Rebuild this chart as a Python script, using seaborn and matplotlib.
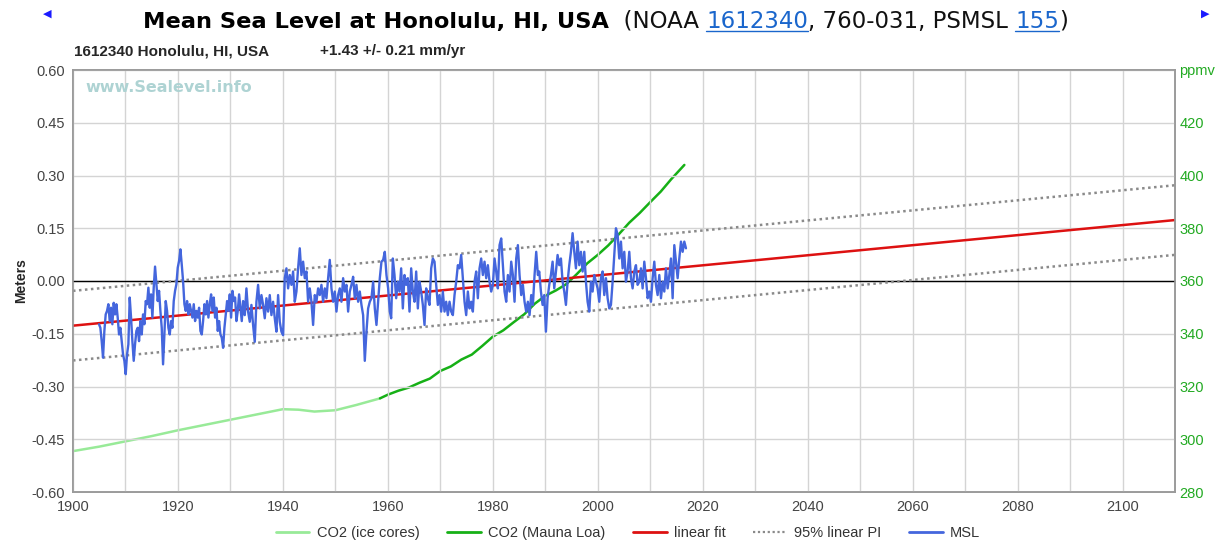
import numpy as np
import pandas as pd
import matplotlib
matplotlib.use("Agg")
import matplotlib.pyplot as plt
import seaborn as sns
from matplotlib.lines import Line2D

# ---------------- data ----------------
# Monthly-ish mean sea level (m), four consecutive segments
msl_seg_spans = [(1904.96, 1932.67), (1932.73, 1960.37), (1960.63, 1988.59), (1988.85, 2016.81)]
msl_a = [-0.123, -0.133, -0.171, -0.218, -0.142, -0.095, -0.085, -0.066, -0.114, -0.076,
         -0.123, -0.062, -0.095, -0.066, -0.104, -0.152, -0.133, -0.171, -0.209, -0.227,
         -0.265, -0.209, -0.180, -0.047, -0.104, -0.171, -0.227, -0.180, -0.142, -0.133,
         -0.171, -0.114, -0.152, -0.095, -0.123, -0.057, -0.066, -0.019, -0.076, -0.038,
         -0.104, -0.019, 0.041, -0.009, -0.057, -0.028, -0.085, -0.133, -0.237, -0.152,
         -0.057, -0.085, -0.133, -0.152, -0.114, -0.133, -0.057, -0.028, -0.009, 0.038,
         0.057, 0.090, 0.047, 0.000, -0.066, -0.085, -0.057, -0.095, -0.066, -0.085,
         -0.104, -0.066, -0.114, -0.085, -0.104, -0.076, -0.142, -0.152, -0.114, -0.066,
         -0.095, -0.057, -0.104, -0.066, -0.038, -0.085, -0.047, -0.104, -0.076, -0.142,
         -0.114, -0.152, -0.161, -0.190, -0.133, -0.095, -0.057, -0.085, -0.038, -0.104,
         -0.028, -0.057, -0.047, -0.114, -0.085, -0.038, -0.076, -0.114, -0.057, -0.095]
msl_b = [-0.097, -0.021, -0.087, -0.116, -0.068, -0.125, -0.173, -0.059, -0.011, -0.078,
         -0.040, -0.068, -0.106, -0.049, -0.087, -0.040, -0.097, -0.059, -0.106, -0.144,
         -0.040, -0.116, -0.144, -0.154, 0.008, 0.036, -0.021, 0.017, -0.011, 0.027,
         -0.059, -0.030, 0.036, 0.093, 0.017, 0.055, 0.008, 0.027, -0.059, -0.021,
         -0.059, -0.125, -0.040, -0.059, -0.021, -0.040, -0.011, -0.059, -0.021, -0.049,
         0.008, 0.060, -0.021, -0.059, -0.030, -0.087, -0.040, -0.021, -0.059, 0.008,
         -0.030, -0.011, -0.087, -0.030, -0.011, 0.012, -0.049, -0.011, -0.059, -0.030,
         -0.068, -0.097, -0.227, -0.144, -0.078, -0.059, -0.049, -0.002, -0.078, -0.125,
         -0.059, 0.008, 0.055, 0.060, 0.083, 0.017, -0.021, -0.087]
msl_c = [-0.106, 0.064, 0.017, -0.049, -0.002, -0.030, 0.036, -0.078, 0.017, -0.011,
         0.008, -0.087, 0.036, -0.030, -0.059, 0.027, -0.078, -0.002, -0.030, -0.068,
         -0.125, -0.021, -0.049, -0.068, 0.036, 0.064, 0.055, -0.011, -0.068, -0.040,
         -0.087, -0.030, -0.087, -0.059, -0.097, -0.059, -0.087, -0.097, -0.040, -0.002,
         0.045, 0.036, 0.074, 0.008, -0.059, -0.097, -0.030, -0.078, -0.059, -0.087,
         -0.002, 0.027, -0.049, 0.036, 0.064, 0.017, 0.055, 0.008, 0.045, -0.002,
         -0.030, -0.011, 0.064, 0.027, -0.021, 0.102, 0.121, 0.045, -0.030, -0.059,
         0.017, -0.030, 0.055, 0.017, -0.059, 0.064, 0.102, 0.017, -0.040, -0.011,
         -0.059, -0.087, -0.059, -0.097, -0.040, -0.068, 0.017, 0.083, 0.017]
msl_d = [0.027, -0.030, -0.068, -0.040, -0.144, -0.049, -0.011, 0.017, 0.055, -0.021,
         0.027, 0.074, 0.045, 0.064, -0.002, -0.030, -0.068, -0.002, 0.045, 0.083,
         0.136, 0.083, 0.036, 0.112, 0.045, 0.083, 0.027, 0.083, -0.002, -0.059,
         -0.087, -0.002, -0.030, 0.017, -0.002, -0.021, -0.059, 0.008, 0.027, -0.040,
         0.008, -0.049, -0.078, -0.068, -0.002, 0.074, 0.150, 0.131, 0.064, 0.112,
         0.036, 0.083, -0.002, 0.027, 0.083, 0.008, -0.021, 0.027, 0.045, -0.011,
         -0.002, 0.036, -0.021, 0.055, 0.008, -0.049, -0.030, -0.059, 0.008, 0.055,
         -0.011, -0.040, 0.017, -0.049, -0.002, -0.030, 0.036, -0.021, 0.017, 0.064,
         -0.049, 0.102, 0.055, 0.008, 0.064, 0.112, 0.083, 0.112, 0.093]

# CO2 (ppmv)
ice_years = [1900, 1905, 1910, 1915, 1920, 1925, 1930, 1935, 1940, 1943, 1946, 1950, 1954, 1958.5]
ice_ppm = [295.5, 297.2, 299.2, 301.2, 303.4, 305.4, 307.4, 309.4, 311.4, 311.2, 310.5, 311.0, 313.0, 315.5]
ml_years = [1958.5, 1960, 1962, 1964, 1966, 1968, 1970, 1972, 1974, 1976, 1978, 1980, 1982,
            1984, 1986, 1988, 1990, 1992, 1994, 1996, 1998, 2000, 2002, 2004, 2006, 2008,
            2010, 2012, 2014, 2016.5]
ml_ppm = [315.5, 316.9, 318.4, 319.6, 321.4, 323.0, 325.9, 327.6, 330.2, 332.1, 335.4, 338.9,
          341.3, 344.4, 347.4, 351.4, 354.4, 356.4, 358.8, 362.6, 366.7, 369.9, 373.5, 377.7,
          382.1, 385.8, 389.9, 393.9, 398.6, 404.0]

# linear fit / prediction interval
fit_rate_mm_yr = 1.43
fit_at_1900 = -0.127
pi_halfwidth = 0.099
fit_years = [1900, 2110]

# axes
x_ticks = [1900, 1920, 1940, 1960, 1980, 2000, 2020, 2040, 2060, 2080, 2100]
left_ticks = [-0.60, -0.45, -0.30, -0.15, 0.00, 0.15, 0.30, 0.45, 0.60]
right_ticks = [280, 300, 320, 340, 360, 380, 400, 420, 440]
right_labels = ["280", "300", "320", "340", "360", "380", "400", "420", "ppmv"]

# ---------------- build frames ----------------
segs = [msl_a, msl_b, msl_c, msl_d]
msl_years = np.concatenate([np.linspace(s, e, len(v)) for (s, e), v in zip(msl_seg_spans, segs)])
msl_vals = np.concatenate([np.array(v) for v in segs])
msl_df = pd.DataFrame({"year": msl_years, "msl": msl_vals})

fy = np.array(fit_years, dtype=float)
fit_vals = fit_at_1900 + fit_rate_mm_yr / 1000.0 * (fy - 1900)
fit_df = pd.DataFrame({"year": fy, "fit": fit_vals,
                       "hi": fit_vals + pi_halfwidth, "lo": fit_vals - pi_halfwidth})
ice_df = pd.DataFrame({"year": ice_years, "ppm": ice_ppm})
ml_df = pd.DataFrame({"year": ml_years, "ppm": ml_ppm})

# ---------------- figure ----------------
sns.set_style("white")
plt.rcParams["font.family"] = ["Liberation Sans", "DejaVu Sans"]

W, H = 1225, 544
fig = plt.figure(figsize=(W / 100, H / 100), dpi=100)
ax = fig.add_axes([73 / W, 1 - 492 / H, (1175 - 73) / W, (492 - 70) / H])
ax2 = ax.twinx()
ax.set_zorder(ax2.get_zorder() + 1)
ax.patch.set_visible(False)

c_ice = "#98ea98"
c_ml = "#16b016"
c_fit = "#dd1111"
c_pi = "#8a8a8a"
c_msl = "#4466dd"

sns.lineplot(data=ice_df, x="year", y="ppm", ax=ax2, color=c_ice, linewidth=1.8, legend=False)
sns.lineplot(data=ml_df, x="year", y="ppm", ax=ax2, color=c_ml, linewidth=1.8, legend=False)

ax.axhline(0, color="black", linewidth=1.0, zorder=1.5)
sns.lineplot(data=fit_df, x="year", y="fit", ax=ax, color=c_fit, linewidth=1.8, legend=False, zorder=2)
for col in ["hi", "lo"]:
    sns.lineplot(data=fit_df, x="year", y=col, ax=ax, color=c_pi, linewidth=1.8,
                 linestyle=(0, (1, 1.4)), legend=False, zorder=2)
sns.lineplot(data=msl_df, x="year", y="msl", ax=ax, color=c_msl, linewidth=1.7,
             legend=False, zorder=3)

ax.set_xlim(1900, 2110)
ax.set_ylim(-0.60, 0.60)
ax2.set_ylim(280, 440)

ax.set_xticks(x_ticks)
ax.set_xticks(np.arange(1910, 2111, 20), minor=True)
ax.set_yticks(left_ticks)
ax.set_yticklabels([f"{v:.2f}" for v in left_ticks])
ax.grid(True, which="both", axis="x", color="#d4d4d4", linewidth=1.0)
ax.grid(True, which="major", axis="y", color="#d4d4d4", linewidth=1.0)
ax.set_axisbelow(True)
ax.tick_params(axis="both", which="both", length=0, labelsize=10.5, labelcolor="#444444", pad=6)
ax.set_xlabel("")
ax.set_ylabel("Meters", fontsize=10, fontweight="bold", labelpad=2)

ax2.set_yticks(right_ticks)
ax2.set_yticklabels(right_labels)
ax2.tick_params(axis="y", length=0, labelsize=10.5, labelcolor="#22aa22", pad=3)
ax2.set_ylabel("")
ax2.grid(False)

for a in (ax, ax2):
    for sp in a.spines.values():
        sp.set_color("#9a9a9a")
        sp.set_linewidth(1.2)

# watermark
ax.text(12 / 1102, 1 - 18 / 422, "www.Sealevel.info", transform=ax.transAxes,
        fontsize=11.5, fontweight="bold", color="#aed3d3", va="center", ha="left",
        family="DejaVu Sans")

# ---------------- title pieces ----------------
fig.canvas.draw()
r = fig.canvas.get_renderer()
pieces = [("Mean Sea Level at Honolulu, HI, USA", "bold", "black", False, 16.2),
          ("  (NOAA ", "normal", "#111111", False, 16.5),
          ("1612340", "normal", "#1a66cc", True, 16.5),
          (", 760-031, PSMSL ", "normal", "#111111", False, 16.5),
          ("155", "normal", "#1a66cc", True, 16.5),
          (")", "normal", "#111111", False, 16.5)]
xpix = 143
ybase = H - 28
for txt, wt, col, link, fs in pieces:
    t = fig.text(xpix / W, ybase / H, txt, fontsize=fs, fontweight=wt, color=col,
                 family="DejaVu Sans", va="baseline", ha="left")
    bb = t.get_window_extent(r)
    if link:
        fig.add_artist(Line2D([bb.x0 / W, bb.x1 / W], [(ybase - 3) / H, (ybase - 3) / H],
                              color=col, linewidth=1.0))
    xpix = bb.x1

fig.text(47 / W, 1 - 14 / H, "\u25C0", fontsize=8, color="#1a1aff", ha="center", va="center",
         family="DejaVu Sans")
fig.text(1205 / W, 1 - 14 / H, "\u25B6", fontsize=8, color="#1a1aff", ha="center", va="center",
         family="DejaVu Sans")

fig.text(74 / W, 1 - 51 / H, "1612340 Honolulu, HI, USA", fontsize=11, fontweight="bold",
         ha="left", va="center")
fig.text(320 / W, 1 - 51 / H, "+1.43 +/- 0.21 mm/yr", fontsize=11, fontweight="bold",
         ha="left", va="center")

# ---------------- legend ----------------
handles = [Line2D([], [], color=c_ice, lw=2),
           Line2D([], [], color=c_ml, lw=2),
           Line2D([], [], color=c_fit, lw=2),
           Line2D([], [], color=c_pi, lw=1.6, linestyle=(0, (1, 1.2))),
           Line2D([], [], color=c_msl, lw=2)]
labels = ["CO2 (ice cores)", "CO2 (Mauna Loa)", "linear fit", "95% linear PI", "MSL"]
leg = fig.legend(handles, labels, loc="center", bbox_to_anchor=(628 / W, 1 - 533 / H),
                 ncol=5, frameon=False, fontsize=10.5, handlelength=2.3, handletextpad=0.5,
                 columnspacing=1.9)
for t in leg.get_texts():
    t.set_color("#333333")

fig.savefig("out.png", dpi=100)
